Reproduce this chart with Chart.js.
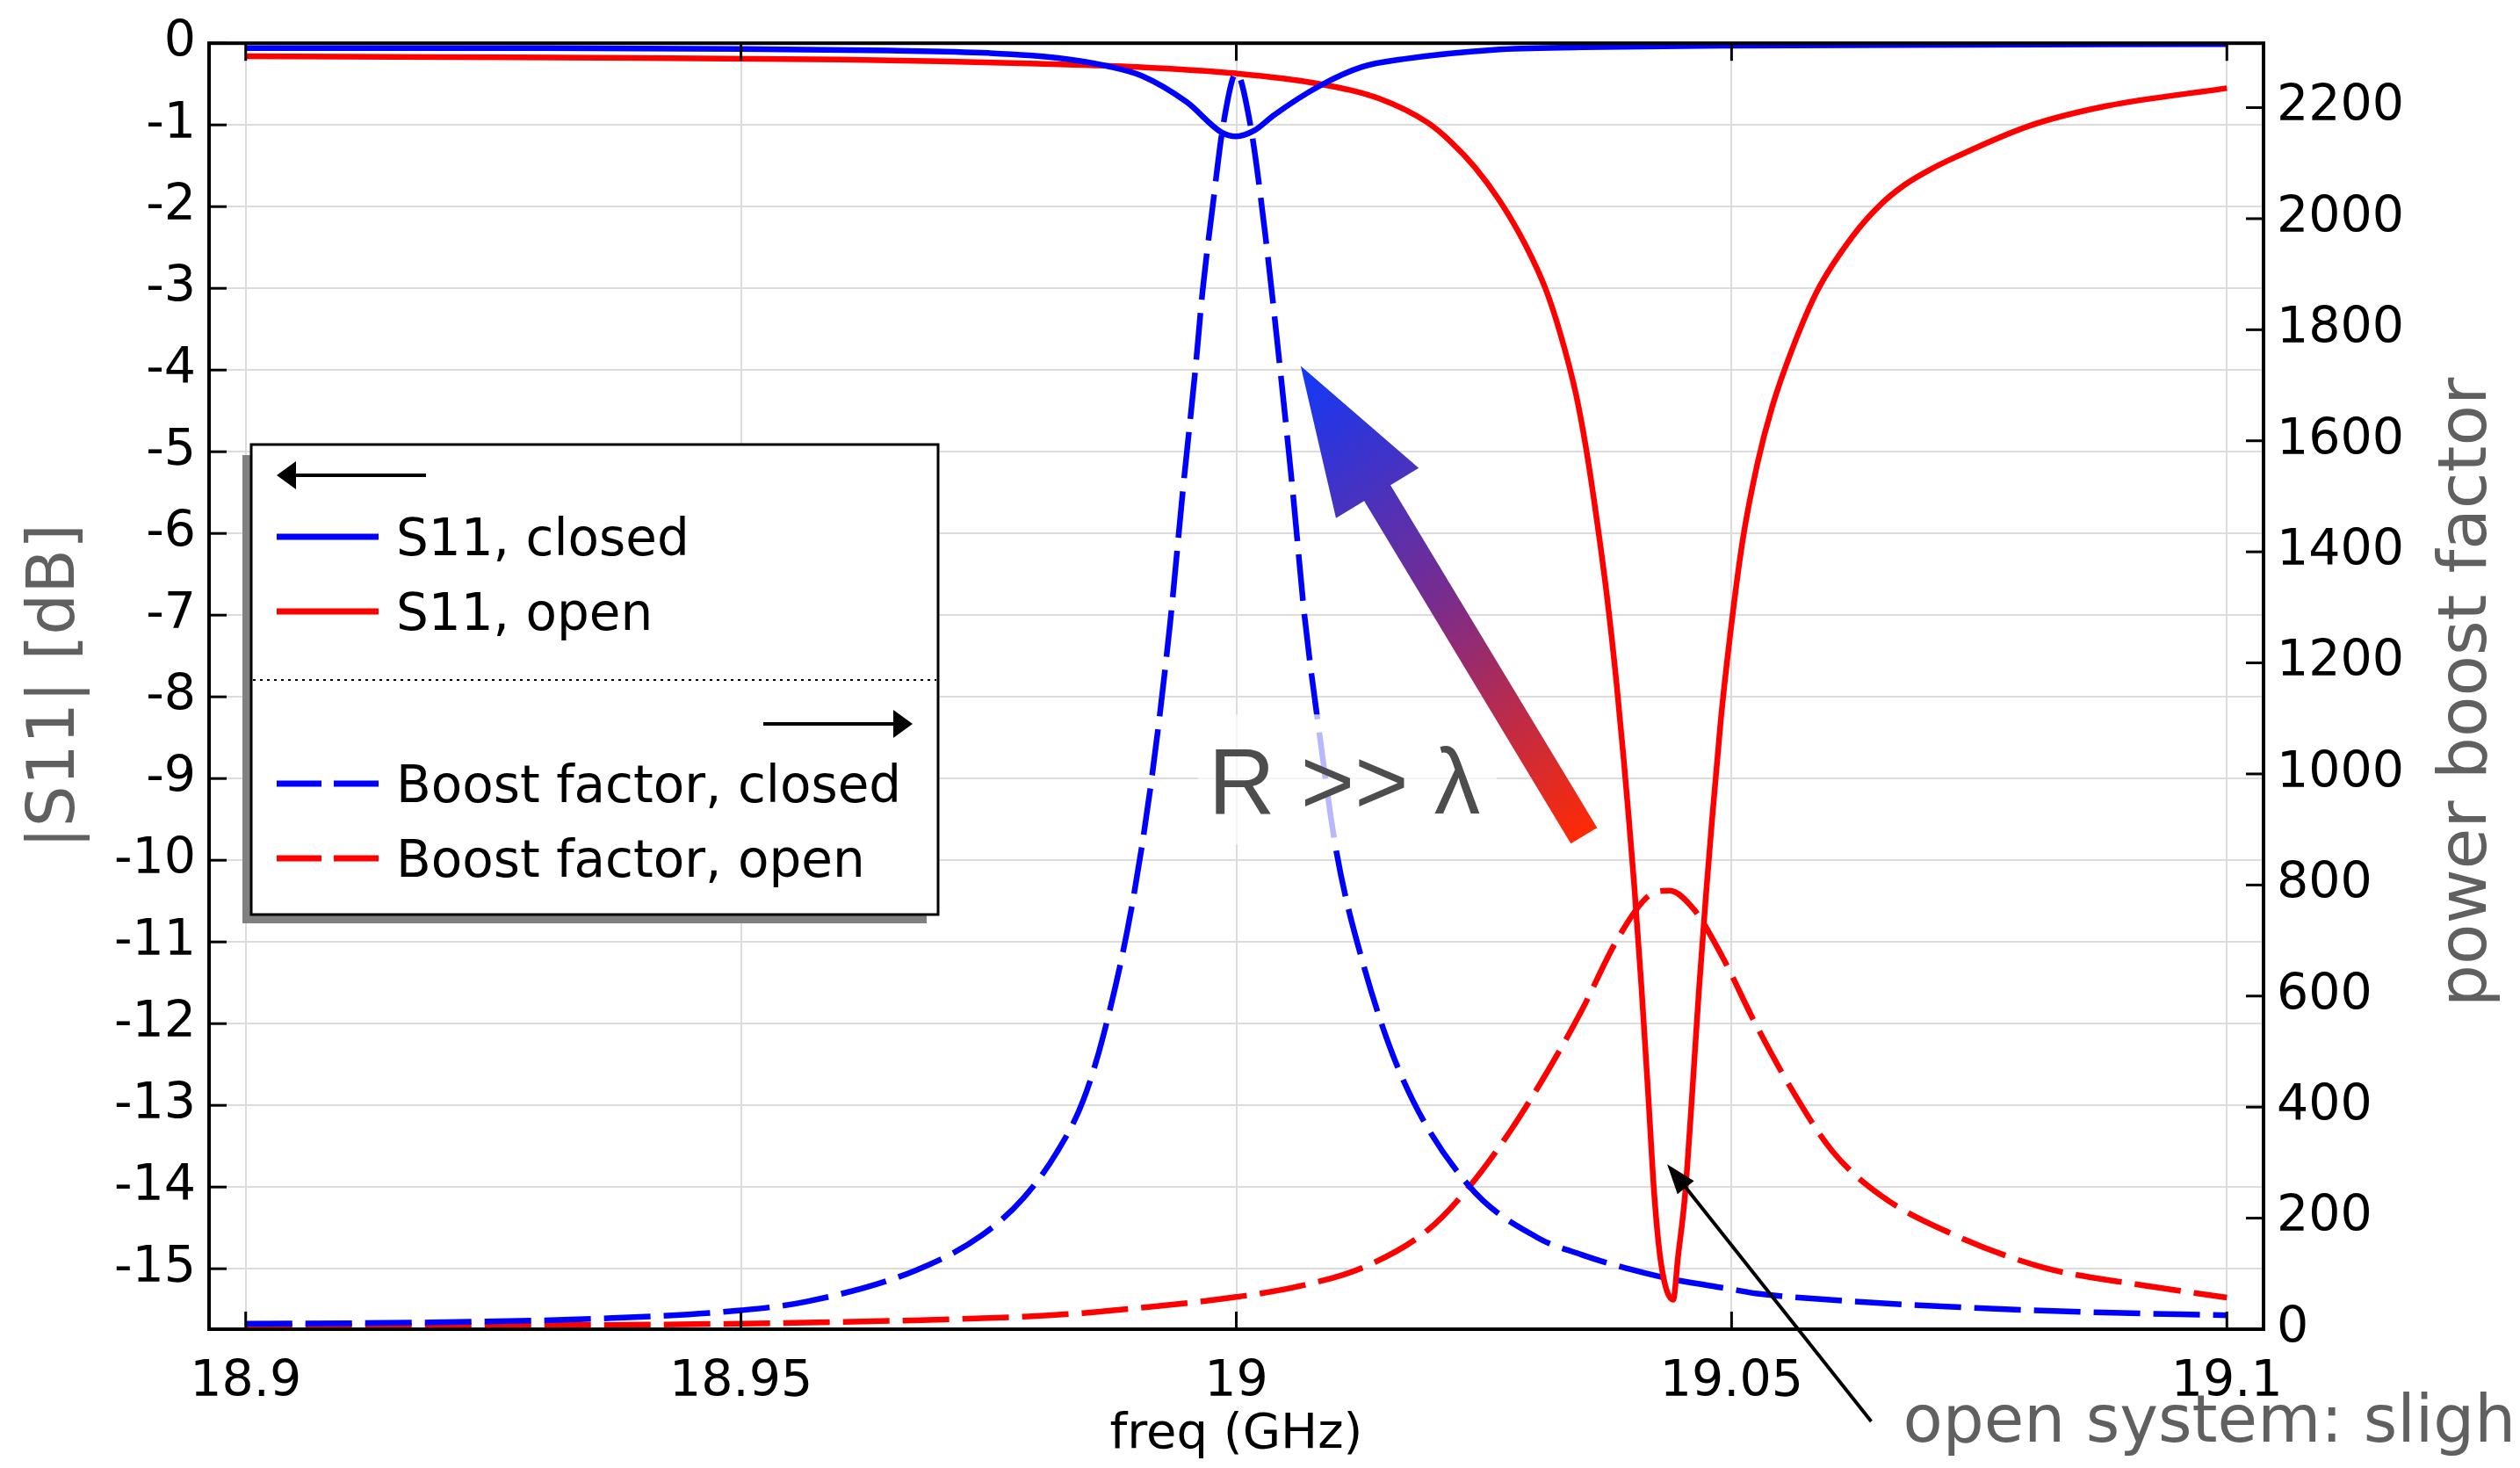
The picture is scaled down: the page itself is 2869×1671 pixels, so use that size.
<!DOCTYPE html>
<html>
<head>
<meta charset="utf-8">
<script src="https://cdn.jsdelivr.net/npm/chart.js@4.4.0/dist/chart.umd.min.js"></script>
<style>
  html, body { margin: 0; padding: 0; background: #fff; }
</style>
</head>
<body>
<canvas id="s11Chart" width="2869" height="1671"></canvas>
<script>
// ejes
var xTicks = [18.9, 18.95, 19, 19.05, 19.1];
var s11Ticks = [0, -1, -2, -3, -4, -5, -6, -7, -8, -9, -10, -11, -12, -13, -14, -15];
var boostTicks = [0, 200, 400, 600, 800, 1000, 1200, 1400, 1600, 1800, 2000, 2200];

// S11 closed (dB)
var freqS11Closed = [18.9, 18.93, 18.95, 18.965, 18.975, 18.982, 18.987, 18.9905, 18.995, 18.9985, 19.0, 19.0018, 19.0038, 19.0083, 19.0127, 19.0171, 19.026, 19.035, 19.05, 19.075, 19.1];
var s11Closed = [-0.06, -0.06, -0.07, -0.09, -0.12, -0.18, -0.28, -0.40, -0.72, -1.09, -1.14, -1.07, -0.88, -0.53, -0.29, -0.19, -0.08, -0.05, -0.03, -0.02, -0.01];

// S11 open (dB)
var freqS11Open = [18.9, 18.92, 18.94, 18.96, 18.97, 18.98, 18.99, 19.0, 19.008, 19.0145, 19.0193, 19.0216, 19.0241, 19.0266, 19.0292, 19.0312, 19.0327, 19.0343, 19.0353, 19.0363, 19.0374, 19.0384, 19.0391, 19.0396, 19.0402, 19.0409, 19.0416, 19.0422, 19.0429, 19.0441, 19.0446, 19.0453, 19.046, 19.0467, 19.0474, 19.048, 19.0489, 19.0498, 19.0511, 19.0526, 19.0541, 19.0562, 19.0587, 19.0623, 19.065, 19.0674, 19.07, 19.0725, 19.0801, 19.0878, 19.1];
var s11Open = [-0.16, -0.17, -0.18, -0.20, -0.22, -0.25, -0.29, -0.37, -0.49, -0.68, -0.97, -1.20, -1.52, -1.93, -2.47, -3.00, -3.55, -4.30, -4.95, -5.75, -6.75, -7.85, -8.75, -9.45, -10.35, -11.55, -12.9, -14.1, -14.95, -15.38, -14.85, -14.1, -12.9, -11.6, -10.45, -9.55, -8.3, -7.3, -6.1, -5.15, -4.45, -3.72, -3.02, -2.35, -1.98, -1.74, -1.55, -1.40, -1.01, -0.77, -0.55];

// boost factor closed
var freqBoostClosed = [18.9, 18.918, 18.937, 18.95, 18.9567, 18.9675, 18.9743, 18.9785, 18.9819, 18.9845, 18.9866, 18.9894, 18.9915, 18.9933, 18.9946, 18.9959, 18.9966, 18.9976, 18.9987, 19.0, 19.0014, 19.0029, 19.0044, 19.0057, 19.0069, 19.0084, 19.0101, 19.0127, 19.0167, 19.0234, 19.0304, 19.0349, 19.0393, 19.0437, 19.05, 19.0526, 19.0615, 19.0712, 19.0876, 19.1];
var boostClosed = [10, 12, 20, 34, 50, 105, 169, 236, 319, 410, 530, 756, 997, 1268, 1509, 1734, 1870, 2020, 2171, 2262, 2171, 1975, 1734, 1509, 1283, 1072, 861, 665, 455, 260, 165, 134, 110, 91, 72, 64, 51, 41, 30, 25];

// boost factor open
var freqBoostOpen = [18.9, 18.93, 18.95, 18.9675, 18.979, 18.9845, 18.9895, 19.0, 19.0065, 19.0129, 19.0193, 19.0234, 19.0277, 19.0319, 19.0349, 19.0384, 19.0416, 19.0437, 19.0462, 19.049, 19.0523, 19.056, 19.0602, 19.0652, 19.0722, 19.0815, 19.0908, 19.1];
var boostOpen = [5, 7, 10, 16, 23, 29, 37, 58, 78, 112, 178, 254, 358, 479, 575, 700, 780, 790, 756, 673, 554, 434, 320, 239, 172, 111, 81, 57];

function pts(xs, ys) {
  return xs.map(function (x, i) { return { x: x, y: ys[i] }; });
}

function arrowHead(c, tx, ty, fx, fy, len, half) {
  var a = Math.atan2(ty - fy, tx - fx);
  var bx = tx - len * Math.cos(a), by = ty - len * Math.sin(a);
  c.beginPath();
  c.moveTo(tx, ty);
  c.lineTo(bx + half * Math.sin(a), by - half * Math.cos(a));
  c.lineTo(bx - half * Math.sin(a), by + half * Math.cos(a));
  c.closePath();
  c.fill();
}

var FONT = "'DejaVu Sans', sans-serif";
var dash = [53, 15];

var extras = {
  id: 'extras',
  afterDatasetsDraw: function (chart) {
    var c = chart.ctx, x = chart.scales.x, y = chart.scales.y;
    c.save();

    // R >> lambda con fondo semitransparente
    var tx = x.getPixelForValue(18.9979), ty = y.getPixelForValue(-9.43);
    c.fillStyle = 'rgba(255,255,255,0.72)';
    c.fillRect(tx - 20, ty - 113, 340, 148);
    c.fillStyle = '#4d4d4d';
    c.font = "105px 'Liberation Sans', sans-serif";
    c.textBaseline = 'alphabetic';
    c.fillText('R >> \u03bb', tx - 8, ty);

    // flecha con degradado
    var px = x.getPixelForValue(19.0065), py = y.getPixelForValue(-3.95);
    var qx = x.getPixelForValue(19.0351), qy = y.getPixelForValue(-9.70);
    var L = Math.hypot(px - qx, py - qy);
    var ux = (px - qx) / L, uy = (py - qy) / L, nx = -uy, ny = ux;
    var headLen = 169, headHalf = 55, sh = 17.5;
    var bx = px - ux * headLen, by = py - uy * headLen;
    var g = c.createLinearGradient(px, py, qx, qy);
    g.addColorStop(0, '#1238f8');
    g.addColorStop(0.5, '#7a2c8c');
    g.addColorStop(1, '#ff2a05');
    c.fillStyle = g;
    c.beginPath();
    c.moveTo(qx + nx * sh, qy + ny * sh);
    c.lineTo(bx + nx * sh, by + ny * sh);
    c.lineTo(bx + nx * headHalf, by + ny * headHalf);
    c.lineTo(px, py);
    c.lineTo(bx - nx * headHalf, by - ny * headHalf);
    c.lineTo(bx - nx * sh, by - ny * sh);
    c.lineTo(qx - nx * sh, qy - ny * sh);
    c.closePath();
    c.fill();

    // flecha negra hacia el minimo
    var ax = x.getPixelForValue(19.0435), ay = y.getPixelForValue(-13.72);
    var fx = x.getPixelForValue(19.0641), fy = y.getPixelForValue(-16.87);
    c.strokeStyle = '#000';
    c.lineWidth = 4;
    c.beginPath();
    c.moveTo(fx, fy);
    c.lineTo(ax + (fx - ax) * 0.08, ay + (fy - ay) * 0.08);
    c.stroke();
    c.fillStyle = '#000';
    arrowHead(c, ax, ay, fx, fy, 34, 12);

    c.fillStyle = '#606060';
    c.font = '74px ' + FONT;
    c.fillText('open system: sligh', x.getPixelForValue(19.0673), y.getPixelForValue(-17.12));

    // leyenda
    var lx = 286, ly = 506, lw = 782, lh = 535;
    c.fillStyle = '#808080';
    c.fillRect(lx - 10, ly + 12, lw - 3, lh - 2);
    c.fillStyle = '#fff';
    c.fillRect(lx, ly, lw, lh);
    c.strokeStyle = '#000';
    c.lineWidth = 3;
    c.strokeRect(lx, ly, lw, lh);

    c.fillStyle = '#000';
    c.lineWidth = 4;
    c.beginPath(); c.moveTo(lx + 199, ly + 35); c.lineTo(lx + 45, ly + 35); c.stroke();
    arrowHead(c, lx + 29, ly + 35, lx + 199, ly + 35, 22, 16);
    c.beginPath(); c.moveTo(lx + 583, ly + 318); c.lineTo(lx + 737, ly + 318); c.stroke();
    arrowHead(c, lx + 753, ly + 318, lx + 583, ly + 318, 22, 16);

    c.lineWidth = 2;
    c.setLineDash([3, 5]);
    c.beginPath(); c.moveTo(lx + 2, ly + 268); c.lineTo(lx + lw - 2, ly + 268); c.stroke();
    c.setLineDash([]);

    var rows = [105, 190, 386, 471];
    c.font = '58px ' + FONT;
    chart.data.datasets.forEach(function (ds, i) {
      var yy = ly + rows[i];
      c.strokeStyle = ds.borderColor;
      c.lineWidth = 7;
      c.setLineDash(ds.borderDash ? [51, 14] : []);
      c.beginPath(); c.moveTo(lx + 29, yy); c.lineTo(lx + 145, yy); c.stroke();
      c.setLineDash([]);
      c.fillStyle = '#000';
      c.fillText(ds.label, lx + 165, yy + 21);
    });
    c.restore();
  },
  afterDraw: function (chart) {
    var c = chart.ctx, a = chart.chartArea;
    var x = chart.scales.x, y = chart.scales.y, y1 = chart.scales.y1;
    c.save();
    c.strokeStyle = '#000';
    c.lineWidth = 3;
    // ticks hacia adentro
    x.ticks.forEach(function (t) {
      var p = x.getPixelForValue(t.value);
      c.beginPath(); c.moveTo(p, a.bottom); c.lineTo(p, a.bottom - 20); c.stroke();
      c.beginPath(); c.moveTo(p, a.top); c.lineTo(p, a.top + 20); c.stroke();
    });
    y.ticks.forEach(function (t) {
      var p = y.getPixelForValue(t.value);
      c.beginPath(); c.moveTo(a.left, p); c.lineTo(a.left + 20, p); c.stroke();
    });
    y1.ticks.forEach(function (t) {
      var p = y1.getPixelForValue(t.value);
      c.beginPath(); c.moveTo(a.right, p); c.lineTo(a.right - 20, p); c.stroke();
    });
    c.lineWidth = 4;
    c.strokeRect(a.left, a.top, a.right - a.left, a.bottom - a.top);

    // titulo eje derecho (de abajo hacia arriba)
    c.translate(a.right + 233, (a.top + a.bottom) / 2 + 7);
    c.rotate(-Math.PI / 2);
    c.fillStyle = '#606060';
    c.font = '76px ' + FONT;
    c.textAlign = 'center';
    c.textBaseline = 'middle';
    c.fillText('power boost factor', 0, 0);
    c.restore();
  }
};

Chart.defaults.font.family = FONT;
Chart.defaults.color = '#000';

var ctx = document.getElementById('s11Chart').getContext('2d');
var myChart = new Chart(ctx, {
  type: 'line',
  data: {
    datasets: [{
      label: 'S11, closed',
      data: pts(freqS11Closed, s11Closed),
      borderColor: '#0000ff',
      borderWidth: 6.5,
      yAxisID: 'y'
    }, {
      label: 'S11, open',
      data: pts(freqS11Open, s11Open),
      borderColor: '#ff0000',
      borderWidth: 6.5,
      yAxisID: 'y'
    }, {
      label: 'Boost factor, closed',
      data: pts(freqBoostClosed, boostClosed),
      borderColor: '#0000ff',
      borderWidth: 6.5,
      borderDash: dash,
      yAxisID: 'y1'
    }, {
      label: 'Boost factor, open',
      data: pts(freqBoostOpen, boostOpen),
      borderColor: '#ff0000',
      borderWidth: 6.5,
      borderDash: dash,
      yAxisID: 'y1'
    }]
  },
  options: {
    responsive: false,
    animation: false,
    devicePixelRatio: 1,
    layout: { padding: { top: 33, left: 0, right: 0, bottom: 0 } },
    elements: {
      point: { radius: 0 },
      line: { cubicInterpolationMode: 'monotone', fill: false }
    },
    plugins: { legend: { display: false }, tooltip: { enabled: false } },
    scales: {
      x: {
        type: 'linear',
        min: 18.8963,
        max: 19.1037,
        afterBuildTicks: function (s) { s.ticks = xTicks.map(function (v) { return { value: v }; }); },
        afterFit: function (s) { s.height = 158; },
        grid: { color: '#dcdcdc', lineWidth: 2, drawTicks: false },
        border: { display: false },
        ticks: {
          font: { size: 57 }, color: '#000', padding: 27, maxRotation: 0, autoSkip: false,
          callback: function (v) { return String(+v.toFixed(2)); }
        },
        title: { display: true, text: 'freq (GHz)', color: '#000', font: { size: 56 }, padding: { top: 0, bottom: 4 } }
      },
      y: {
        position: 'left',
        min: -15.74,
        max: 0,
        afterBuildTicks: function (s) { s.ticks = s11Ticks.map(function (v) { return { value: v }; }); },
        afterFit: function (s) { s.width = 238; },
        grid: { color: '#dcdcdc', lineWidth: 2, drawTicks: false },
        border: { display: false },
        ticks: { font: { size: 57 }, color: '#000', padding: 15, callback: function (v) { return String(v); } },
        title: { display: true, text: '|S11| [dB]', color: '#606060', font: { size: 74 }, padding: { top: 20 } }
      },
      y1: {
        position: 'right',
        min: 0,
        max: 2316,
        afterBuildTicks: function (s) { s.ticks = boostTicks.map(function (v) { return { value: v }; }); },
        afterFit: function (s) { s.width = 292; },
        grid: { drawOnChartArea: false, drawTicks: false },
        border: { display: false },
        ticks: { font: { size: 57 }, color: '#000', padding: 15, callback: function (v) { return String(v); } }
      }
    }
  },
  plugins: [extras]
});
</script>
</body>
</html>
